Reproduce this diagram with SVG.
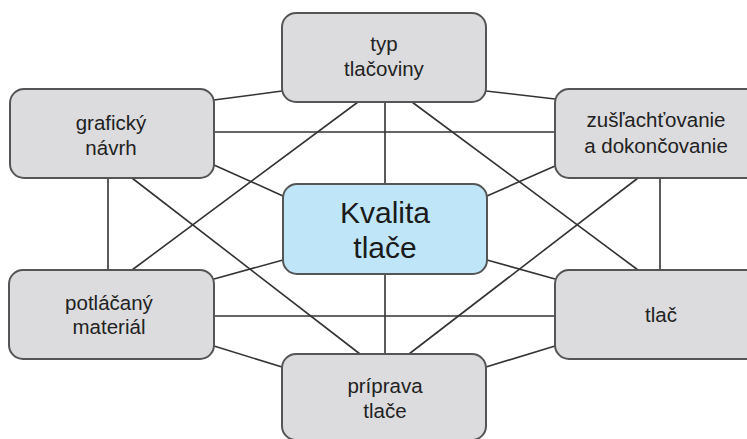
<svg xmlns="http://www.w3.org/2000/svg" width="747" height="439" viewBox="0 0 747 439">
<style>
.box{fill:#dcdcde;stroke:#555;stroke-width:2}
.main{fill:#bfe6f8;stroke:#555;stroke-width:2}
.t{font-family:"Liberation Sans",Arial,sans-serif;font-size:20.5px;fill:#222;text-anchor:middle}
.tm{font-family:"Liberation Sans",Arial,sans-serif;font-size:30px;fill:#1a1a1a;text-anchor:middle}
#connectors line{stroke:#333;stroke-width:1.6}
</style>
<rect width="747" height="439" fill="#fff"/>
<g id="connectors">
<line x1="214" y1="100" x2="282" y2="91"/>
<line x1="486" y1="91" x2="555" y2="99"/>
<line x1="214" y1="132" x2="555" y2="132"/>
<line x1="214" y1="165" x2="283" y2="196"/>
<line x1="487" y1="196" x2="555" y2="166"/>
<line x1="358" y1="102" x2="132" y2="270"/>
<line x1="412" y1="102" x2="638" y2="270"/>
<line x1="385" y1="102" x2="385" y2="184"/>
<line x1="385" y1="274" x2="385" y2="354"/>
<line x1="108" y1="178" x2="108" y2="270"/>
<line x1="660" y1="178" x2="660" y2="270"/>
<line x1="132" y1="178" x2="360" y2="354"/>
<line x1="638" y1="178" x2="409" y2="354"/>
<line x1="214" y1="279" x2="283" y2="260"/>
<line x1="487" y1="260" x2="555" y2="279"/>
<line x1="214" y1="316" x2="555" y2="316"/>
<line x1="214" y1="346" x2="282" y2="367"/>
<line x1="486" y1="367" x2="555" y2="346"/>
</g>
<g id="typ">
<rect class="box" x="282" y="13" width="204" height="89" rx="14"/>
<text class="t" x="384" y="51">typ</text>
<text class="t" x="384" y="76">tlačoviny</text>
</g>
<g id="graficky">
<rect class="box" x="10" y="89" width="204" height="89" rx="14"/>
<text class="t" x="111" y="130">grafický</text>
<text class="t" x="111" y="155">návrh</text>
</g>
<g id="zuslachtovanie">
<rect class="box" x="555" y="89" width="210" height="89" rx="14"/>
<text class="t" x="656" y="127">zušľachťovanie</text>
<text class="t" x="656" y="153">a dokončovanie</text>
</g>
<g id="kvalita">
<rect class="main" x="283" y="184" width="204" height="90" rx="14"/>
<text class="tm" x="385" y="223">Kvalita</text>
<text class="tm" x="385" y="258">tlače</text>
</g>
<g id="potlacany">
<rect class="box" x="9" y="270" width="205" height="89" rx="14"/>
<text class="t" x="109" y="310">potláčaný</text>
<text class="t" x="109" y="334">materiál</text>
</g>
<g id="tlac">
<rect class="box" x="555" y="270" width="210" height="89" rx="14"/>
<text class="t" x="661" y="322">tlač</text>
</g>
<g id="priprava">
<rect class="box" x="282" y="354" width="204" height="86" rx="14"/>
<text class="t" x="385" y="393">príprava</text>
<text class="t" x="385" y="418">tlače</text>
</g>
</svg>
